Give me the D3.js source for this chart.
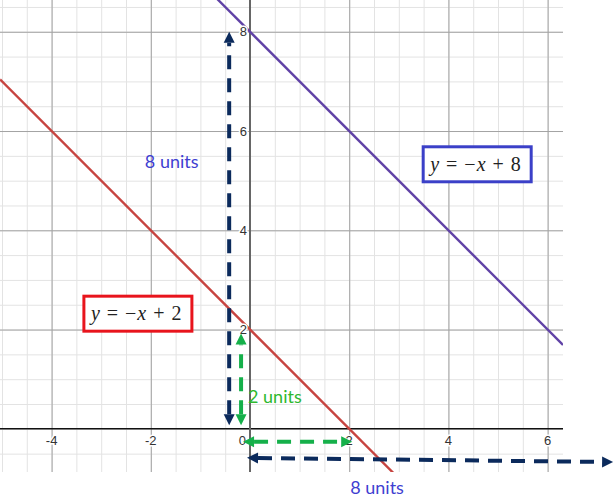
<!DOCTYPE html>
<html>
  <head>
    <meta charset="utf-8">
    <script src="https://d3js.org/d3.v7.min.js"></script>
    <title>y = -x + 2 and y = -x + 8</title>
    <style>
      body {
        margin: 0px;
        background: #fff;
      }
      .tick-label {
        fill: #333;
        font-size: 13px;
        font-family: "Liberation Sans", Arial, sans-serif;
        stroke: #fff;
        stroke-width: 3px;
        paint-order: stroke;
      }
      .unit-label {
        font-size: 18px;
        font-family: "Comic Sans MS", Lato, sans-serif;
      }
      .eq {
        font-size: 20px;
        font-family: "Liberation Serif", "Times New Roman", serif;
        fill: #222;
      }
    </style>
  </head>
  <body>
    <svg width="615" height="499"></svg>
    <script>

      // ticks
      const xTickValues = [-4, -2, 0, 2, 4, 6];
      const yTickValues = [2, 4, 6, 8];

      // lines y = m x + b
      const slopes = [-1, -1];
      const intercepts = [2, 8];
      const equations = [['y', '=', '−', 'x', '+', '2'], ['y', '=', '−', 'x', '+', '8']];

      // distance arrows (graph units), start and end tips
      const arrowFrom = [[-0.42, 0.07], [-0.18, 0.07], [-0.14, -0.26], [-0.06, -0.585]];
      const arrowTo = [[-0.42, 8.0], [-0.18, 1.92], [2.06, -0.26], [7.32, -0.67]];
      const unitLabels = ['8 units', '2 units', '8 units'];

      // layout
      const plotW = 563, plotH = 472;
      const lineColors = ['#c74440', '#6042a6'];
      const boxColors = ['#e8141c', '#3b40c8'];
      const boxAt = [[-2.26, 2.33], [4.58, 5.34]];
      const arrowColors = ['#0b2a5c', '#15b04a', '#15b04a', '#0b2a5c'];
      const labelAt = [[-2.12, 5.25], [-0.04, 0.52], [2.02, -1.32]];
      const labelColors = ['#3f3fd1', '#2eb82e', '#3f3fd1'];
      const eqGaps = [0, 7, 7, 1, 7, 7];

      const svg = d3.select('svg');

      const xScale = d3.scaleLinear().domain([-5.04, 6.31]).range([0, plotW]);
      const yScale = d3.scaleLinear().domain([-0.87, 8.64]).range([plotH, 0]);

      svg.append('defs').append('clipPath').attr('id', 'plot')
        .append('rect').attr('width', plotW).attr('height', plotH);

      const g = svg.append('g').attr('clip-path', 'url(#plot)');

      // grid: minor every 0.5, major every 2
      const minorX = d3.range(-5, 6.5, 0.5), minorY = d3.range(-0.5, 9, 0.5);
      g.append('g').call(d3.axisBottom(xScale).tickValues(minorX).tickSize(-plotH).tickFormat(''))
        .attr('transform', `translate(0,${plotH})`)
        .call(a => a.select('.domain').remove())
        .call(a => a.selectAll('line').attr('stroke', '#e3e3e3'));
      g.append('g').call(d3.axisLeft(yScale).tickValues(minorY).tickSize(-plotW).tickFormat(''))
        .call(a => a.select('.domain').remove())
        .call(a => a.selectAll('line').attr('stroke', '#e3e3e3'));
      g.append('g').call(d3.axisBottom(xScale).tickValues(xTickValues.filter(d => d)).tickSize(-plotH).tickFormat(''))
        .attr('transform', `translate(0,${plotH})`)
        .call(a => a.select('.domain').remove())
        .call(a => a.selectAll('line').attr('stroke', '#a3a3a3'));
      g.append('g').call(d3.axisLeft(yScale).tickValues(yTickValues).tickSize(-plotW).tickFormat(''))
        .call(a => a.select('.domain').remove())
        .call(a => a.selectAll('line').attr('stroke', '#a3a3a3'));

      // axes
      g.append('line')
        .attr('x1', 0).attr('x2', plotW)
        .attr('y1', yScale(0)).attr('y2', yScale(0))
        .attr('stroke', '#111').attr('stroke-width', 1.5);
      g.append('line')
        .attr('x1', xScale(0)).attr('x2', xScale(0))
        .attr('y1', 0).attr('y2', plotH)
        .attr('stroke', '#666').attr('stroke-width', 2);

      // tick labels
      svg.append('g').selectAll('text').data(xTickValues)
        .enter().append('text')
          .attr('class', 'tick-label')
          .attr('x', d => d === 0 ? xScale(0) - 4 : xScale(d))
          .attr('y', yScale(0) + 16)
          .attr('text-anchor', d => d === 0 ? 'end' : 'middle')
          .text(d => d);
      svg.append('g').selectAll('text').data(yTickValues)
        .enter().append('text')
          .attr('class', 'tick-label')
          .attr('x', xScale(0) - 3)
          .attr('y', d => yScale(d))
          .attr('dy', '0.35em')
          .attr('text-anchor', 'end')
          .text(d => d);

      // the two lines
      const xEnds = xScale.domain();
      g.selectAll('.graph').data(slopes)
        .enter().append('line')
          .attr('class', 'graph')
          .attr('x1', xScale(xEnds[0]))
          .attr('x2', xScale(xEnds[1]))
          .attr('y1', (m, i) => yScale(m * xEnds[0] + intercepts[i]))
          .attr('y2', (m, i) => yScale(m * xEnds[1] + intercepts[i]))
          .attr('stroke', (m, i) => lineColors[i])
          .attr('stroke-width', 2.4);

      // equation boxes
      equations.forEach((parts, i) => {
        const cx = xScale(boxAt[i][0]), cy = yScale(boxAt[i][1]);
        svg.append('rect')
          .attr('x', cx - 54).attr('y', cy - 17)
          .attr('width', 108).attr('height', 35)
          .attr('fill', '#fff')
          .attr('stroke', boxColors[i])
          .attr('stroke-width', 3);
        const t = svg.append('text')
          .attr('class', 'eq')
          .attr('x', cx - 47).attr('y', cy + 7);
        parts.forEach((p, j) => {
          t.append('tspan')
            .attr('dx', eqGaps[j])
            .style('font-style', p === 'x' || p === 'y' ? 'italic' : 'normal')
            .text(p);
        });
      });

      // dashed distance arrows
      arrowFrom.forEach((a, i) => {
        const x1 = xScale(a[0]), y1 = yScale(a[1]);
        const x2 = xScale(arrowTo[i][0]), y2 = yScale(arrowTo[i][1]);
        const len = Math.hypot(x2 - x1, y2 - y1);
        const ux = (x2 - x1) / len, uy = (y2 - y1) / len;
        const head = 11, half = 5.5;
        svg.append('line')
          .attr('x1', x1 + ux * head).attr('y1', y1 + uy * head)
          .attr('x2', x2 - ux * head).attr('y2', y2 - uy * head)
          .attr('stroke', arrowColors[i])
          .attr('stroke-width', 4)
          .attr('stroke-dasharray', '14,9');
        [[x1, y1, -1], [x2, y2, 1]].forEach(([px, py, s]) => {
          const bx = px - s * ux * head, by = py - s * uy * head;
          svg.append('polygon')
            .attr('points', [
              [px, py],
              [bx - uy * half, by + ux * half],
              [bx + uy * half, by - ux * half]
            ].map(p => p.join(',')).join(' '))
            .attr('fill', arrowColors[i]);
        });
      });

      // unit labels
      svg.append('g').selectAll('text').data(unitLabels)
        .enter().append('text')
          .attr('class', 'unit-label')
          .attr('x', (d, i) => xScale(labelAt[i][0]))
          .attr('y', (d, i) => yScale(labelAt[i][1]))
          .attr('fill', (d, i) => labelColors[i])
          .text(d => d);
    </script>
  </body>
</html>
